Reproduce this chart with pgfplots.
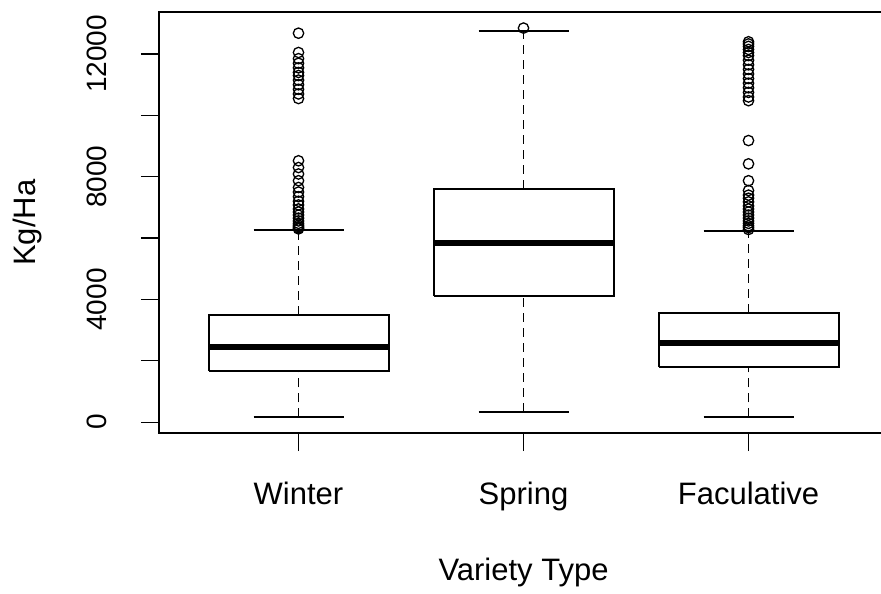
\documentclass[border=0pt]{standalone}
\usepackage{pgfplots}
\pgfplotsset{compat=1.18}
\usepackage{fontspec}
\setmainfont{Liberation Sans}

\pgfplotsset{
  boxline/.style={black, line width=1pt, line join=miter, mark=none},
  medline/.style={black, line width=3pt, mark=none},
  whisk/.style={black, line width=0.8pt, dash pattern=on 4.5pt off 3pt, mark=none},
  staple/.style={black, line width=1pt, mark=none, unbounded coords=jump},
  outl/.style={only marks, mark=o, mark size=2.6pt,
    mark options={black, line width=0.65pt}},
}

\begin{document}
\begin{tikzpicture}
\begin{axis}[
  scale only axis,
  width=364.5pt, height=210.25pt,
  xmin=0.38, xmax=3.62, ymin=-355, ymax=13355,
  axis line style={draw=none},
  tick align=outside, major tick length=9pt,
  tick style={black, line width=0.6pt},
  xtick pos=bottom, ytick pos=left,
  scaled y ticks=false,
  xtick={1,2,3}, xticklabels={Winter,Spring,Faculative},
  ytick={0,2000,...,12000}, yticklabels={0,,4000,,8000,,12000},
  xticklabel style={anchor=base, inner sep=0pt, font=\fontsize{15.5}{18}\selectfont},
  yticklabel style={rotate=90, anchor=base, inner sep=0pt, font=\fontsize{14}{17}\selectfont},
  xticklabel shift=26.5pt,
  yticklabel shift=17pt,
  xlabel={Variety Type}, ylabel={Kg/Ha},
  label style={font=\fontsize{15.5}{18}\selectfont, inner sep=0pt},
  xlabel style={at={(axis description cs:0.5,-0.351)}, anchor=base},
  ylabel style={at={(axis description cs:-0.1693,0.5)}, anchor=base},
  clip=false,
]
% Winter: lw 153, q1 1661, med 2456, q3 3508, uw 6267
\addplot[whisk] coordinates {(1,3508) (1,6267)};
\addplot[whisk] coordinates {(1,153) (1,1661)};
\addplot[staple] coordinates {(0.8,6267) (1.2,6267) (nan,nan) (0.8,153) (1.2,153)};
\addplot[boxline] coordinates {(0.6,1661) (1.4,1661) (1.4,3508) (0.6,3508) (0.6,1661)};
\addplot[medline] coordinates {(0.6,2456) (1.4,2456)};
\addplot[outl] coordinates {(1,12680) (1,12050) (1,11850) (1,11700) (1,11550) (1,11400)
    (1,11300) (1,11150) (1,11000) (1,10850) (1,10700) (1,10550)
    (1,8520) (1,8300) (1,8090) (1,7870) (1,7650) (1,7500) (1,7350)
    (1,7200) (1,7080) (1,6950) (1,6850) (1,6750) (1,6650) (1,6560)
    (1,6480) (1,6420) (1,6370) (1,6330) (1,6300)};
% Spring: lw 339, q1 4104, med 5853, q3 7612, uw 12736
\addplot[whisk] coordinates {(2,7612) (2,12736)};
\addplot[whisk] coordinates {(2,339) (2,4104)};
\addplot[staple] coordinates {(1.8,12736) (2.2,12736) (nan,nan) (1.8,339) (2.2,339)};
\addplot[boxline] coordinates {(1.6,4104) (2.4,4104) (2.4,7612) (1.6,7612) (1.6,4104)};
\addplot[medline] coordinates {(1.6,5853) (2.4,5853)};
\addplot[outl] coordinates {(2,12847)};
% Faculative: lw 153, q1 1782, med 2586, q3 3564, uw 6221
\addplot[whisk] coordinates {(3,3564) (3,6221)};
\addplot[whisk] coordinates {(3,153) (3,1782)};
\addplot[staple] coordinates {(2.8,6221) (3.2,6221) (nan,nan) (2.8,153) (3.2,153)};
\addplot[boxline] coordinates {(2.6,1782) (3.4,1782) (3.4,3564) (2.6,3564) (2.6,1782)};
\addplot[medline] coordinates {(2.6,2586) (3.4,2586)};
\addplot[outl] coordinates {(3,12400) (3,12330) (3,12250) (3,12150) (3,12050) (3,11950)
    (3,11800) (3,11650) (3,11500) (3,11350) (3,11200) (3,11050)
    (3,10900) (3,10750) (3,10600) (3,10480) (3,9180) (3,8420) (3,7870)
    (3,7550) (3,7400) (3,7300) (3,7180) (3,7050) (3,6950) (3,6850)
    (3,6750) (3,6650) (3,6560) (3,6480) (3,6400) (3,6340) (3,6280)};
% plot frame (right side falls outside the cropped picture)
\draw[line width=1pt] (rel axis cs:1,1) -- (rel axis cs:0,1)
  -- (rel axis cs:0,0) -- (rel axis cs:1,0);
\end{axis}
\pgfresetboundingbox
\useasboundingbox (-79.5pt,-80pt) rectangle (361pt,216.5pt);
\end{tikzpicture}
\end{document}
